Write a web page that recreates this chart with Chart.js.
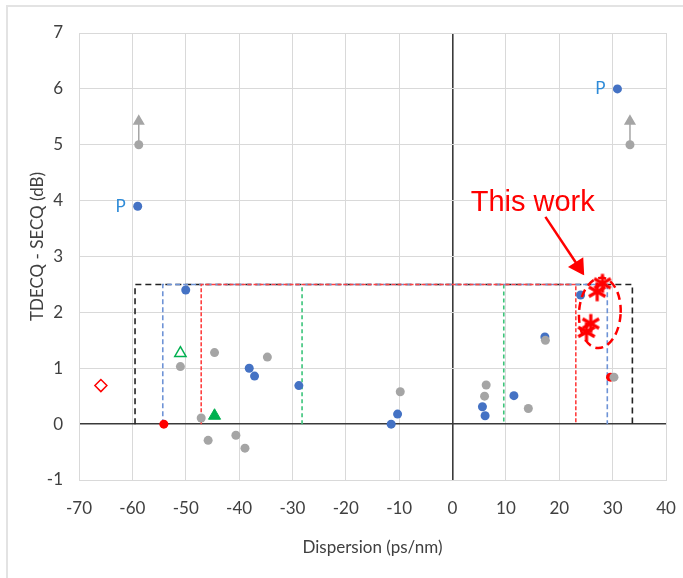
<!DOCTYPE html>
<html>
<head>
<meta charset="utf-8">
<script src="https://cdn.jsdelivr.net/npm/chart.js@4.4.1/dist/chart.umd.min.js"></script>
<style>
  body { margin: 0; background: #fff; }
  #wrap { position: relative; width: 683px; height: 578px; overflow: hidden; }
  #frame { position: absolute; left: 6px; top: 5px; width: 700px; height: 600px;
           border-left: 2px solid #e3e3e3; border-top: 2px solid #e3e3e3; }
  canvas { position: absolute; left: 0; top: 0; }
</style>
</head>
<body>
<div id="wrap">
  <div id="frame"></div>
  <canvas id="myChart" width="683" height="578"></canvas>
</div>
<script>
// ---- data ----
const xTicks = [-70, -60, -50, -40, -30, -20, -10, 0, 10, 20, 30, 40];
const yTicks = [-1, 0, 1, 2, 3, 4, 5, 6, 7];

const blueX = [-59, 30.9, -50, -38.1, -37.1, -28.8, -10.3, -11.5, 5.6, 6.1, 11.5, 17.3, 24];
const blueY = [3.9, 6.0, 2.4, 1.0, 0.86, 0.69, 0.18, 0, 0.31, 0.15, 0.51, 1.56, 2.31];

const greyX = [-58.8, 33.25, -51, -44.6, -34.7, -47.1, -45.8, -40.6, -38.9, -9.8, 6.3, 6.0, 14.2, 17.4, 30.25];
const greyY = [5.0, 5.0, 1.03, 1.28, 1.2, 0.11, -0.29, -0.2, -0.43, 0.58, 0.7, 0.5, 0.28, 1.5, 0.84];

const redX = [-54.1, 29.6];
const redY = [0, 0.84];

const diamondX = [-65.9];
const diamondY = [0.69];

const starX = [28.1, 27.1, 25.9, 25.1];
const starY = [2.52, 2.37, 1.8, 1.65];

const openTriX = [-51];
const openTriY = [1.27];
const fillTriX = [-44.6];
const fillTriY = [0.15];

// lower bounds marked with an arrow (value is at least this)
const arrowX = [-58.8, 33.25];
const arrowFrom = [5.0, 5.0];
const arrowTo = [5.42, 5.42];

// dashed limit boxes: [left edge, right edge, height]
const blackBox = [-59.5, 33.7, 2.5];
const blueBox = [-54.3, 29.0, 2.5];
const redBox = [-47.1, 23.1, 2.5];
const greenBox = [-28.2, 9.6, 2.5];

// "This work" callout
const calloutText = "This work";
const calloutPos = [3.4, 3.82];
const calloutArrowX = [17.4, 23.6];
const calloutArrowY = [3.71, 2.82];
const ellipseCenter = [27.6, 1.99];
const ellipseRadius = [3.9, 0.63];

const pLabelIdx = [0, 1];

const blue = "#4472C4";
const grey = "#A5A5A5";
const red = "#FF0000";
const green = "#00B050";
const textColor = "#404040";
const fontFamily = "Lato, 'Open Sans', sans-serif";

const pts = (xs, ys) => xs.map((x, i) => ({ x, y: ys[i] }));
const boxPts = (b) => [
  { x: b[0], y: 0 }, { x: b[0], y: b[2] }, { x: b[1], y: b[2] }, { x: b[1], y: 0 }
];

// six-armed asterisk marker, like the one in the figure
const asterisk = document.createElement("canvas");
asterisk.width = 22;
asterisk.height = 22;
(() => {
  const c = asterisk.getContext("2d");
  c.strokeStyle = red;
  c.lineWidth = 3.2;
  c.translate(11, 11);
  [90, 30, -30].forEach((deg) => {
    const a = (deg * Math.PI) / 180;
    c.beginPath();
    c.moveTo(-9.5 * Math.cos(a), -9.5 * Math.sin(a));
    c.lineTo(9.5 * Math.cos(a), 9.5 * Math.sin(a));
    c.stroke();
  });
})();

const annotations = {
  id: "annotations",
  afterDatasetsDraw(chart) {
    const { ctx, scales: { x, y }, chartArea } = chart;
    ctx.save();

    // ellipse round this work
    const cx = x.getPixelForValue(ellipseCenter[0]);
    const cy = y.getPixelForValue(ellipseCenter[1]);
    const rx = Math.abs(x.getPixelForValue(ellipseCenter[0] + ellipseRadius[0]) - cx);
    const ry = Math.abs(y.getPixelForValue(ellipseCenter[1] + ellipseRadius[1]) - cy);
    ctx.strokeStyle = red;
    ctx.lineWidth = 2.5;
    ctx.setLineDash([8, 5]);
    ctx.beginPath();
    ctx.ellipse(cx, cy, rx, ry, 0.06, 0, Math.PI * 2);
    ctx.stroke();
    ctx.setLineDash([]);

    // callout text
    ctx.fillStyle = red;
    ctx.font = "29px 'Liberation Sans', Arial, sans-serif";
    ctx.textAlign = "left";
    ctx.textBaseline = "alphabetic";
    ctx.fillText(calloutText, x.getPixelForValue(calloutPos[0]), y.getPixelForValue(calloutPos[1]));

    // P labels
    ctx.fillStyle = "#2E8BD8";
    ctx.font = "17px " + fontFamily;
    ctx.textAlign = "right";
    ctx.textBaseline = "middle";
    pLabelIdx.forEach((i) => {
      ctx.fillText("P", x.getPixelForValue(blueX[i]) - 12, y.getPixelForValue(blueY[i]));
    });

    // y axis title
    ctx.fillStyle = textColor;
    ctx.font = "17px " + fontFamily;
    ctx.translate(38, (chartArea.top + chartArea.bottom) / 2 - 10);
    ctx.rotate(-Math.PI / 2);
    ctx.textAlign = "center";
    ctx.fillText("TDECQ - SECQ (dB)", 0, 0);
    ctx.restore();
  }
};

const dot = (label, data, color, order) => ({
  label, data, order,
  backgroundColor: color, borderColor: color,
  pointRadius: 4.5, pointHoverRadius: 4.5, borderWidth: 0
});

const dashLine = (label, data, color, dash, order) => ({
  label, data, order, showLine: true,
  borderColor: color, borderWidth: 1.6, borderDash: dash,
  pointRadius: 0, fill: false
});

const datasets = [
  dot("grey", pts(greyX, greyY), grey, 2),
  dot("blue", pts(blueX, blueY), blue, 4),
  dot("red", pts(redX, redY), red, 3),
  {
    label: "diamond", data: pts(diamondX, diamondY), order: 1,
    pointStyle: "rectRot", pointRadius: 6, backgroundColor: "#fff",
    borderColor: red, borderWidth: 1.5
  },
  {
    label: "open triangle", data: pts(openTriX, openTriY), order: 1,
    pointStyle: "triangle", pointRadius: 6.5, backgroundColor: "#fff",
    borderColor: green, borderWidth: 1.5
  },
  {
    label: "filled triangle", data: pts(fillTriX, fillTriY), order: 1,
    pointStyle: "triangle", pointRadius: 7, backgroundColor: green,
    borderColor: green, borderWidth: 1
  },
  {
    label: "this work", data: pts(starX, starY), order: 0,
    pointStyle: asterisk, pointRadius: 10
  },
  ...arrowX.map((ax, i) => ({
    label: "arrow" + i, order: 5, showLine: true,
    data: [{ x: ax, y: arrowFrom[i] }, { x: ax, y: arrowTo[i] }],
    borderColor: grey, borderWidth: 1.5,
    pointStyle: "triangle", pointRadius: [0, 5.5],
    backgroundColor: grey, pointBorderColor: grey
  })),
  {
    label: "callout arrow", order: 0, showLine: true,
    data: pts(calloutArrowX, calloutArrowY),
    borderColor: red, borderWidth: 2.5,
    pointStyle: "triangle", pointRadius: [0, 8], pointRotation: 147,
    backgroundColor: red, pointBorderColor: red
  },
  dashLine("green box L", boxPts(greenBox).slice(0, 2), "#3CC47A", [4, 3], 9),
  dashLine("green box R", boxPts(greenBox).slice(2), "#3CC47A", [4, 3], 9),
  dashLine("red box", boxPts(redBox), "#FF4040", [4, 2], 7),
  dashLine("blue box", boxPts(blueBox), "#6E93D6", [5, 3], 8),
  dashLine("black box", boxPts(blackBox), "#222", [6, 4], 10)
];

new Chart(document.getElementById("myChart"), {
  type: "scatter",
  data: { datasets },
  plugins: [annotations],
  options: {
    responsive: false,
    animation: false,
    events: [],
    layout: { padding: { top: 33, right: 17, left: 0, bottom: 0 } },
    plugins: { legend: { display: false }, tooltip: { enabled: false } },
    scales: {
      x: {
        type: "linear", min: -70, max: 40,
        afterBuildTicks: (s) => { s.ticks = xTicks.map((v) => ({ value: v })); },
        afterFit: (s) => { s.height = 98; s.paddingLeft = 0; s.paddingRight = 0; },
        grid: {
          color: (c) => (c.tick && c.tick.value === 0 ? "#3a3a3a" : "#d9d9d9"),
          lineWidth: (c) => (c.tick && c.tick.value === 0 ? 1.6 : 1),
          drawTicks: false
        },
        border: { display: true, color: "#d9d9d9" },
        ticks: { color: textColor, font: { family: fontFamily, size: 17 }, padding: 18, maxRotation: 0 },
        title: {
          display: true, text: "Dispersion (ps/nm)", color: textColor,
          font: { family: fontFamily, size: 17 }, padding: { top: 0, bottom: 20 }
        }
      },
      y: {
        type: "linear", min: -1, max: 7,
        afterBuildTicks: (s) => { s.ticks = yTicks.map((v) => ({ value: v })); },
        afterFit: (s) => { s.width = 79; },
        grid: {
          color: (c) => (c.tick && c.tick.value === 0 ? "#3a3a3a" : "#d9d9d9"),
          lineWidth: (c) => (c.tick && c.tick.value === 0 ? 1.6 : 1),
          drawTicks: false
        },
        border: { display: true, color: "#d9d9d9" },
        ticks: { color: textColor, font: { family: fontFamily, size: 17 }, padding: 16 }
      }
    }
  }
});
</script>
</body>
</html>
